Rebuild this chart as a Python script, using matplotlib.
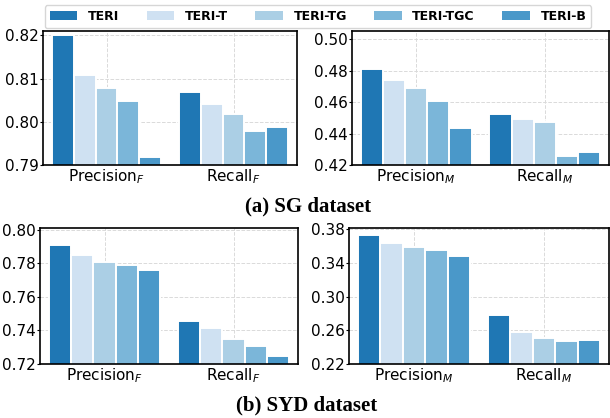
import matplotlib
matplotlib.use("Agg")
import matplotlib.pyplot as plt
from matplotlib.patches import Patch
import numpy as np

###----------------------- data -----------------------###
methods = ["TERI", "TERI-T", "TERI-TG", "TERI-TGC", "TERI-B"]
colors = ["#1f77b4", "#cfe1f2", "#abcfe5", "#7bb6d9", "#4a98c9"]

sg_f_labels = ["Precision$_F$", "Recall$_F$"]
sg_f_prec = [0.8200, 0.8109, 0.8079, 0.8049, 0.7918]
sg_f_rec = [0.8070, 0.8040, 0.8019, 0.7978, 0.7989]

sg_m_labels = ["Precision$_M$", "Recall$_M$"]
sg_m_prec = [0.4810, 0.4743, 0.4693, 0.4608, 0.4434]
sg_m_rec = [0.4522, 0.4491, 0.4472, 0.4257, 0.4282]

syd_f_labels = ["Precision$_F$", "Recall$_F$"]
syd_f_prec = [0.7911, 0.7850, 0.7810, 0.7792, 0.7762]
syd_f_rec = [0.7458, 0.7412, 0.7350, 0.7308, 0.7248]

syd_m_labels = ["Precision$_M$", "Recall$_M$"]
syd_m_prec = [0.3733, 0.3638, 0.3590, 0.3555, 0.3484]
syd_m_rec = [0.2782, 0.2580, 0.2509, 0.2473, 0.2485]


###----------------------- plot -----------------------###
def bars(ax, labels, prec, rec, ylim, yticks):
	w = 0.172
	x = np.arange(2)
	for i in range(5):
		ax.bar(x + (i - 2) * w, [prec[i], rec[i]], width=w, color=colors[i],
		       edgecolor="white", linewidth=1.4, zorder=3)
	ax.set_xlim(-0.5, 1.5)
	ax.set_ylim(*ylim)
	ax.set_yticks(yticks)
	ax.set_yticklabels(["%.2f" % t for t in yticks], fontsize=11)
	ax.set_xticks(x)
	ax.set_xticklabels(labels, fontsize=11)
	ax.grid(True, color="#dadada", linestyle="--", linewidth=0.7, zorder=0)
	ax.tick_params(axis="y", length=2, width=0.8, pad=1)
	ax.tick_params(axis="x", length=0, pad=2)
	for s in ax.spines.values():
		s.set_color("black")
		s.set_linewidth(1.2)
		s.set_zorder(5)


fig = plt.figure(figsize=(6.1, 4.18), dpi=100)
W, H = 610.0, 418.0

def add_ax(x0, x1, ytop, ybot):
	return fig.add_axes([x0 / W, 1 - ybot / H, (x1 - x0) / W, (ybot - ytop) / H])

ax1 = add_ax(43, 297, 31, 165)
ax2 = add_ax(352, 609, 31, 165)
ax3 = add_ax(40, 298, 228, 364)
ax4 = add_ax(349, 609, 228, 364)

bars(ax1, sg_f_labels, sg_f_prec, sg_f_rec, (0.79, 0.821), [0.79, 0.80, 0.81, 0.82])
bars(ax2, sg_m_labels, sg_m_prec, sg_m_rec, (0.42, 0.5053), [0.42, 0.44, 0.46, 0.48, 0.50])
bars(ax3, syd_f_labels, syd_f_prec, syd_f_rec, (0.72, 0.801), [0.72, 0.74, 0.76, 0.78, 0.80])
bars(ax4, syd_m_labels, syd_m_prec, syd_m_rec, (0.22, 0.3812), [0.22, 0.26, 0.30, 0.34, 0.38])

handles = [Patch(facecolor=c, edgecolor="none") for c in colors]
leg = fig.legend(handles, methods, loc="center", bbox_to_anchor=(318 / W, 1 - 16.5 / H),
                 ncol=5, frameon=True, handlelength=2.2, handleheight=0.7,
                 columnspacing=2.2, handletextpad=0.85, borderpad=0.4,
                 prop={"weight": "bold", "size": 9})
leg.get_frame().set_edgecolor("#cccccc")

fig.text(308 / W, 1 - 206 / H, "(a) SG dataset", ha="center", va="center",
         fontsize=15, fontweight="bold", family="Liberation Serif")
fig.text(307 / W, 1 - 405 / H, "(b) SYD dataset", ha="center", va="center",
         fontsize=15, fontweight="bold", family="Liberation Serif")

fig.savefig("out.png", dpi=100)
